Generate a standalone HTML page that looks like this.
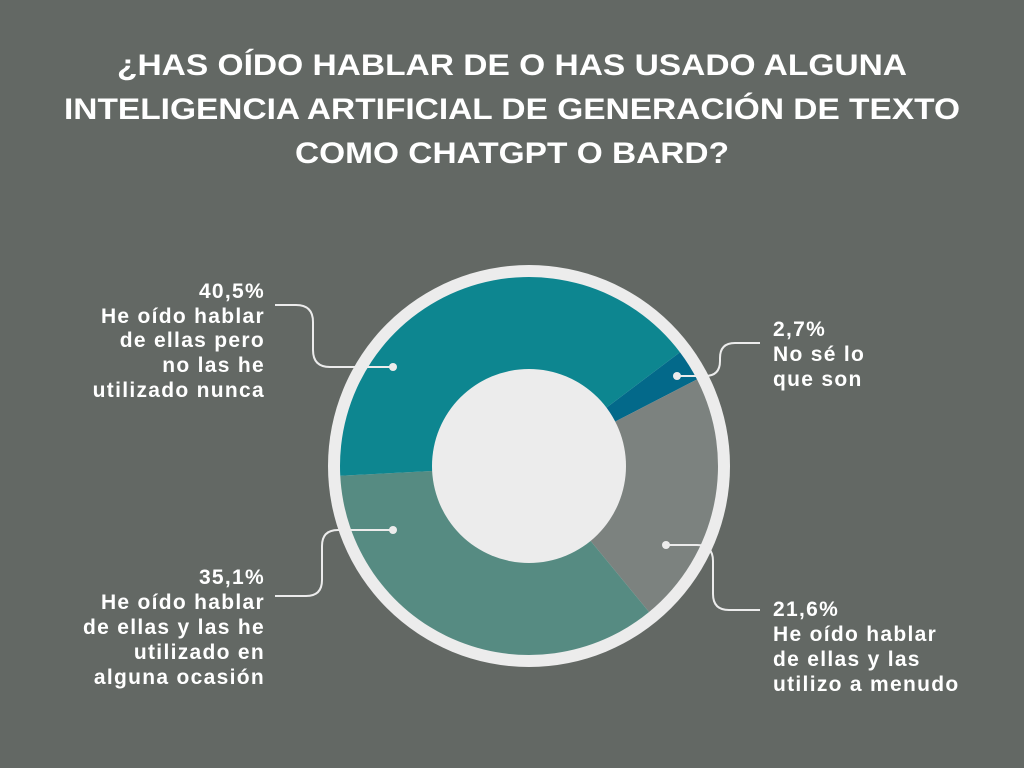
<!DOCTYPE html>
<html><head><meta charset="utf-8"><style>
html,body{margin:0;padding:0;background:#636864;}
svg{display:block;font-family:"Liberation Sans",sans-serif;}
</style></head><body>
<svg width="1024" height="768" viewBox="0 0 1024 768">
<rect width="1024" height="768" fill="#636864"/>
<g fill="#ffffff" font-weight="bold" font-size="30" text-anchor="middle">
<text x="512" y="75" textLength="790" lengthAdjust="spacingAndGlyphs">¿HAS OÍDO HABLAR DE O HAS USADO ALGUNA</text>
<text x="512" y="119" textLength="896" lengthAdjust="spacingAndGlyphs">INTELIGENCIA ARTIFICIAL DE GENERACIÓN DE TEXTO</text>
<text x="512" y="163" textLength="434" lengthAdjust="spacingAndGlyphs">COMO CHATGPT O BARD?</text>
</g>
<circle cx="529" cy="466" r="201" fill="#ececec"/>
<g id="slices"></g>
<circle cx="529" cy="466" r="97" fill="#ececec"/>
<g id="connectors" stroke="#ececec" stroke-width="2" fill="none">
<path d="M393 367 H330 Q313 367 313 350 V322 Q313 305 296 305 H275"/>
<path d="M677 376 H705 Q720 376 720 361 V358 Q720 343 735 343 H760"/>
<path d="M666 545 H697 Q713 545 713 561 V594 Q713 610 729 610 H760"/>
<path d="M393 530 H338 Q322 530 322 546 V580 Q322 596 306 596 H275"/>
</g>
<g fill="#ececec">
<circle cx="393" cy="367" r="4"/>
<circle cx="677" cy="376" r="4"/>
<circle cx="666" cy="545" r="4"/>
<circle cx="393" cy="530" r="4"/>
</g>
<g fill="#ffffff" font-weight="bold" font-size="21" letter-spacing="1.3">
<text text-anchor="end"><tspan x="265" y="298">40,5%</tspan><tspan x="265" y="323">He oído hablar</tspan><tspan x="265" y="347">de ellas pero</tspan><tspan x="265" y="372">no las he</tspan><tspan x="265" y="397">utilizado nunca</tspan></text>
<text><tspan x="773" y="336">2,7%</tspan><tspan x="773" y="361">No sé lo</tspan><tspan x="773" y="386">que son</tspan></text>
<text><tspan x="773" y="616">21,6%</tspan><tspan x="773" y="641">He oído hablar</tspan><tspan x="773" y="666">de ellas y las</tspan><tspan x="773" y="691">utilizo a menudo</tspan></text>
<text text-anchor="end"><tspan x="265" y="584">35,1%</tspan><tspan x="265" y="609">He oído hablar</tspan><tspan x="265" y="634">de ellas y las he</tspan><tspan x="265" y="659">utilizado en</tspan><tspan x="265" y="684">alguna ocasión</tspan></text>
</g>
</svg>
<script>
const categories = ["No sé lo que son","Utilizo a menudo","Alguna ocasión","Nunca"];
const values = [2.7, 21.6, 35.1, 40.5];
const colors = ["#03698a","#7c827f","#568b82","#0d8690"];
const startDeg = 53;
const cx=529, cy=466, R=189;
const g=document.getElementById('slices');
const total=values.reduce((a,b)=>a+b,0);
function pt(a){const r=(a-90)*Math.PI/180;return [cx+R*Math.cos(r),cy+R*Math.sin(r)];}
let a=startDeg;
values.forEach((v,i)=>{
  const sweep=v/total*360;
  const p1=pt(a),p2=pt(a+sweep);
  const p=document.createElementNS('http://www.w3.org/2000/svg','path');
  p.setAttribute('d',`M${cx} ${cy} L${p1[0]} ${p1[1]} A${R} ${R} 0 ${sweep>180?1:0} 1 ${p2[0]} ${p2[1]} Z`);
  p.setAttribute('fill',colors[i]);
  
  
  g.appendChild(p);
  a+=sweep;
});
</script>
</body></html>
